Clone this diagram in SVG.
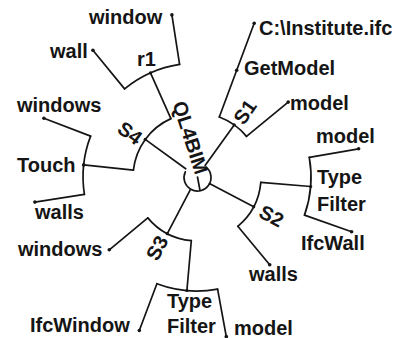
<svg xmlns="http://www.w3.org/2000/svg" width="402" height="338" viewBox="0 0 402 338">
  <style>
    .edge { fill: none; stroke: #151515; stroke-width: 1.7; stroke-linecap: round; stroke-linejoin: round; }
    .dot { fill: #151515; }
    .lbl { font-family: "Liberation Sans", Arial, sans-serif; font-weight: bold; font-size: 20px; fill: #151515; }
    .mid { text-anchor: middle; }
  </style>
  <rect width="402" height="338" fill="#ffffff"/>

  <!-- radial tree: root at (197,177); ring radii 64 / 114 / 164 -->
  <g id="connectors">
    <!-- root to first level -->
    <line class="edge" x1="205.1" y1="165.6" x2="234.2" y2="124.9"/>
    <line class="edge" x1="209.4" y1="183.5" x2="253.7" y2="206.7"/>
    <line class="edge" x1="190.5" y1="189.4" x2="167.3" y2="233.7"/>
    <line class="edge" x1="185.7" y1="168.8" x2="145.2" y2="139.4"/>

    <!-- S1 -->
    <path class="edge" d="M219.3 117.0 A64 64 0 0 1 246.5 136.4"/>
    <line class="edge" x1="219.3" y1="117.0" x2="254.2" y2="23.3"/>
    <line class="edge" x1="246.5" y1="136.4" x2="288.2" y2="102.1"/>

    <!-- S2 -->
    <path class="edge" d="M260.8 182.4 A64 64 0 0 1 237.8 226.3"/>
    <line class="edge" x1="260.8" y1="182.4" x2="310.6" y2="186.5"/>
    <line class="edge" x1="237.8" y1="226.3" x2="269.7" y2="264.8"/>
    <path class="edge" d="M309.3 157.4 A114 114 0 0 1 304.5 215.1"/>
    <line class="edge" x1="309.3" y1="157.4" x2="358.6" y2="148.8"/>
    <line class="edge" x1="304.5" y1="215.1" x2="351.6" y2="231.7"/>

    <!-- S3 -->
    <path class="edge" d="M191.3 240.7 A64 64 0 0 1 147.8 217.9"/>
    <line class="edge" x1="147.8" y1="217.9" x2="109.3" y2="249.8"/>
    <line class="edge" x1="191.3" y1="240.7" x2="186.9" y2="290.5"/>
    <path class="edge" d="M217.6 289.1 A114 114 0 0 1 156.9 283.7"/>
    <line class="edge" x1="156.9" y1="283.7" x2="139.3" y2="330.5"/>
    <line class="edge" x1="217.6" y1="289.1" x2="226.6" y2="338.3"/>

    <!-- S4 -->
    <path class="edge" d="M133.4 170.2 A64 64 0 0 1 170.9 118.6"/>
    <line class="edge" x1="170.9" y1="118.6" x2="150.5" y2="72.9"/>
    <line class="edge" x1="133.4" y1="170.2" x2="83.7" y2="164.9"/>
    <path class="edge" d="M124.6 88.9 A114 114 0 0 1 179.6 64.4"/>
    <line class="edge" x1="179.6" y1="64.4" x2="171.9" y2="14.9"/>
    <line class="edge" x1="124.6" y1="88.9" x2="92.9" y2="50.3"/>
    <path class="edge" d="M84.4 194.4 A114 114 0 0 1 90.6 136.1"/>
    <line class="edge" x1="90.6" y1="136.1" x2="43.9" y2="118.2"/>
    <line class="edge" x1="84.4" y1="194.4" x2="34.9" y2="202.1"/>
  </g>

  <g id="root">
    <path class="edge" d="M185.3 171.8 A13.5 13.5 0 1 0 206.2 167.2"/>
    <line class="edge" x1="197.5" y1="177" x2="200" y2="190.5"/>
    <text class="lbl mid" transform="translate(190.5 137.5) rotate(72)" x="0" y="7">QL4BIM</text>
  </g>

  <g id="S1">
    <circle class="dot" cx="234.2" cy="124.9" r="1.6"/>
    <text class="lbl mid" transform="translate(245 112) rotate(-55)" x="0" y="7">S1</text>
  </g>
  <g id="GetModel">
    <circle class="dot" cx="236.7" cy="70.2" r="1.8"/>
    <text class="lbl" x="244" y="75">GetModel</text>
  </g>
  <g id="institute">
    <circle class="dot" cx="254.2" cy="23.3" r="1.8"/>
    <text class="lbl" x="259" y="35">C:\Institute.ifc</text>
  </g>
  <g id="model-s1">
    <circle class="dot" cx="288.2" cy="102.1" r="1.8"/>
    <text class="lbl" x="290" y="110">model</text>
  </g>

  <g id="S2">
    <circle class="dot" cx="253.7" cy="206.7" r="1.6"/>
    <text class="lbl mid" transform="translate(271.5 216) rotate(27.6)" x="0" y="7">S2</text>
  </g>
  <g id="typefilter-s2">
    <circle class="dot" cx="310.6" cy="186.5" r="1.6"/>
    <text class="lbl" x="317" y="184">Type</text>
    <text class="lbl" x="317" y="211">Filter</text>
  </g>
  <g id="model-s2">
    <circle class="dot" cx="358.6" cy="148.8" r="1.8"/>
    <text class="lbl" x="316" y="143">model</text>
  </g>
  <g id="IfcWall">
    <circle class="dot" cx="351.6" cy="231.7" r="1.8"/>
    <text class="lbl" x="301" y="250">IfcWall</text>
  </g>
  <g id="walls-s2">
    <circle class="dot" cx="269.7" cy="264.8" r="1.8"/>
    <text class="lbl" x="249" y="281">walls</text>
  </g>

  <g id="S3">
    <circle class="dot" cx="167.3" cy="233.7" r="1.6"/>
    <text class="lbl mid" transform="translate(157 248) rotate(-62.3)" x="0" y="7">S3</text>
  </g>
  <g id="windows-s3">
    <circle class="dot" cx="109.3" cy="249.8" r="1.8"/>
    <text class="lbl" x="18" y="256">windows</text>
  </g>
  <g id="typefilter-s3">
    <circle class="dot" cx="186.9" cy="290.5" r="1.6"/>
    <text class="lbl" x="167" y="308">Type</text>
    <text class="lbl" x="167" y="333">Filter</text>
  </g>
  <g id="IfcWindow">
    <circle class="dot" cx="139.3" cy="330.5" r="1.8"/>
    <text class="lbl" x="30" y="332">IfcWindow</text>
  </g>
  <g id="model-s3">
    <circle class="dot" cx="226.3" cy="336.5" r="1.8"/>
    <text class="lbl" x="234" y="335">model</text>
  </g>

  <g id="S4">
    <circle class="dot" cx="145.2" cy="139.4" r="1.6"/>
    <text class="lbl mid" transform="translate(130 133) rotate(36)" x="0" y="7">S4</text>
  </g>
  <g id="r1">
    <circle class="dot" cx="150.5" cy="72.9" r="1.6"/>
    <text class="lbl" x="137" y="66">r1</text>
  </g>
  <g id="window">
    <circle class="dot" cx="171.9" cy="14.9" r="1.8"/>
    <text class="lbl" x="89" y="24">window</text>
  </g>
  <g id="wall">
    <circle class="dot" cx="92.9" cy="50.3" r="1.8"/>
    <text class="lbl" x="50" y="58">wall</text>
  </g>
  <g id="Touch">
    <circle class="dot" cx="83.7" cy="164.9" r="1.8"/>
    <text class="lbl" x="17" y="172">Touch</text>
  </g>
  <g id="windows-s4">
    <circle class="dot" cx="43.9" cy="118.2" r="1.8"/>
    <text class="lbl" x="17" y="112">windows</text>
  </g>
  <g id="walls-s4">
    <circle class="dot" cx="34.9" cy="202.1" r="1.8"/>
    <text class="lbl" x="35" y="219">walls</text>
  </g>
</svg>
